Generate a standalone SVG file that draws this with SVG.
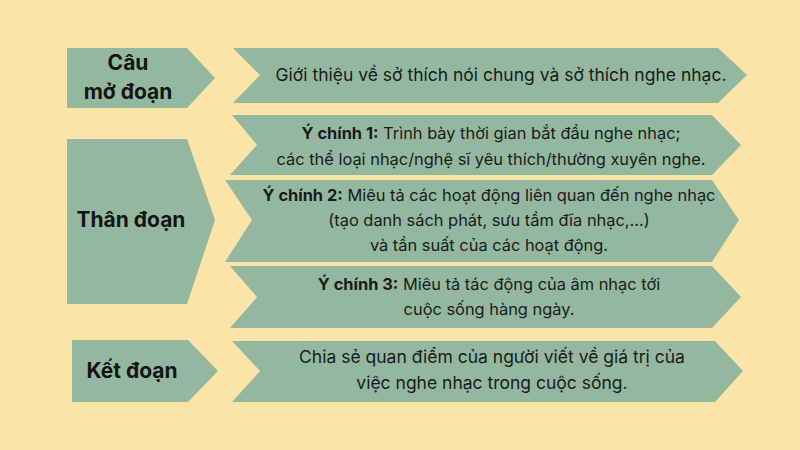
<svg xmlns="http://www.w3.org/2000/svg" width="800" height="450" viewBox="0 0 800 450">
<style>
.bg{fill:#fbe4a6}
.sh{fill:#94b89f}
.lbl{font-family:Inter,"Noto Sans","DejaVu Sans",sans-serif;font-size:21px;font-weight:700;fill:#141414;text-anchor:middle}
.txt{font-family:Inter,"Noto Sans","DejaVu Sans",sans-serif;font-size:17.5px;fill:#1a1a1a;text-anchor:middle}
.sm{font-size:16.4px}
.b{font-weight:700}
</style>
<rect class="bg" x="0" y="0" width="800" height="450"/>
<g id="cau-mo-doan">
<polygon class="sh" points="67,48 187,48 215,78 187,108 67,108"/>
<text class="lbl" x="128" y="70">Câu</text>
<text class="lbl" x="128" y="99">mở đoạn</text>
</g>
<g id="than-doan">
<polygon class="sh" points="67,139 187,139 215,220 187,304 67,304"/>
<text class="lbl" x="131" y="227">Thân đoạn</text>
</g>
<g id="ket-doan">
<polygon class="sh" points="72,340 188,340 218,371 188,402 72,402"/>
<text class="lbl" x="132" y="378">Kết đoạn</text>
</g>
<g id="mo-doan-noi-dung">
<polygon class="sh" points="233,48 718,48 747,75 718,103 233,103 260,75"/>
<text class="txt" x="501" y="81">Giới thiệu về sở thích nói chung và sở thích nghe nhạc.</text>
</g>
<g id="y-chinh-1">
<polygon class="sh" points="232,115 712,115 741,145 712,175 230,175 257,145"/>
<text class="txt sm" x="491" y="139"><tspan class="b">Ý chính 1:</tspan> Trình bày thời gian bắt đầu nghe nhạc;</text>
<text class="txt sm" x="491" y="165">các thể loại nhạc/nghệ sĩ yêu thích/thường xuyên nghe.</text>
</g>
<g id="y-chinh-2">
<polygon class="sh" points="225,180 712,180 739,220 712,262 225,262 252,220"/>
<text class="txt sm" x="489" y="201"><tspan class="b">Ý chính 2:</tspan> Miêu tả các hoạt động liên quan đến nghe nhạc</text>
<text class="txt sm" x="489" y="226">(tạo danh sách phát, sưu tầm đĩa nhạc,...)</text>
<text class="txt sm" x="489" y="251">và tần suất của các hoạt động.</text>
</g>
<g id="y-chinh-3">
<polygon class="sh" points="230,266 712,266 741,297 712,328 230,328 257,297"/>
<text class="txt sm" x="489" y="290"><tspan class="b">Ý chính 3:</tspan> Miêu tả tác động của âm nhạc tới</text>
<text class="txt sm" x="489" y="315">cuộc sống hàng ngày.</text>
</g>
<g id="ket-doan-noi-dung">
<polygon class="sh" points="232,341 715,341 743,371 715,402 232,402 260,371"/>
<text class="txt" x="492" y="363">Chia sẻ quan điểm của người viết về giá trị của</text>
<text class="txt" x="492" y="389">việc nghe nhạc trong cuộc sống.</text>
</g>
<g id="connectors"/>
</svg>
